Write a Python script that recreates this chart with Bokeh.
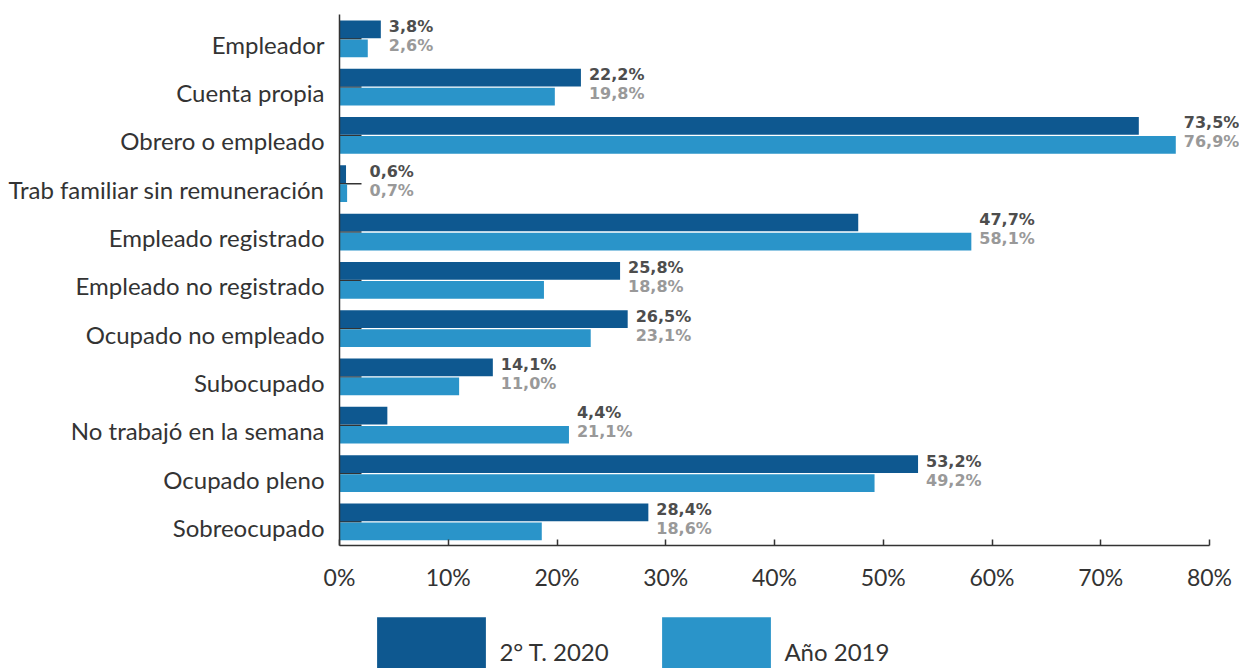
import numpy as np
from bokeh.plotting import figure
from bokeh.layouts import column
from bokeh.core.properties import value
from bokeh.models import (ColumnDataSource, LabelSet, Range1d, FixedTicker,
                          CustomJSTickFormatter, Legend, LegendItem)
from bokeh.embed import file_html
from bokeh.resources import INLINE

# ---------------- data ----------------
categories = ["Empleador", "Cuenta propia", "Obrero o empleado",
              "Trab familiar sin remuneración", "Empleado registrado",
              "Empleado no registrado", "Ocupado no empleado", "Subocupado",
              "No trabajó en la semana", "Ocupado pleno", "Sobreocupado"]
t2_2020 = [3.8, 22.2, 73.5, 0.6, 47.7, 25.8, 26.5, 14.1, 4.4, 53.2, 28.4]
anio_2019 = [2.6, 19.8, 76.9, 0.7, 58.1, 18.8, 23.1, 11.0, 21.1, 49.2, 18.6]
series_names = ["2° T. 2020", "Año 2019"]
x_ticks = [0, 10, 20, 30, 40, 50, 60, 70, 80]
x_tick_labels = ["0%", "10%", "20%", "30%", "40%", "50%", "60%", "70%", "80%"]

# ---------------- style ----------------
DARK = "#0e5890"
LIGHT = "#2a94c9"
AX = "#333333"
FONT = "Lato"
LBL_FONT = "DejaVu Sans"

W = 1239
FRAME_L = 339
AXIS_MAX = 80
PX_PER_UNIT = 870 / AXIS_MAX
X_END = (W - FRAME_L) / PX_PER_UNIT

n = len(categories)
k = np.arange(n)[::-1].astype(float)      # category label positions
LBL_SHIFT = 0.083
OFF = 0.197
BAR_H = 0.367
y_light = k - LBL_SHIFT
y_dark = y_light + 2 * OFF
y_tick = y_light + OFF

TICK_LEN = 22
floor = TICK_LEN / PX_PER_UNIT
lab_x = [max(a, b, floor) for a, b in zip(t2_2020, anio_2019)]

def fmt(v):
    return f"{v:.1f}".replace(".", ",") + "%"

src = ColumnDataSource(dict(
    yd=y_dark, yl=y_light, yt=y_tick, v1=t2_2020, v2=anio_2019,
    lx=lab_x, t1=[fmt(v) for v in t2_2020], t2=[fmt(v) for v in anio_2019],
    zero=[0] * n))

p = figure(width=W, height=600, output_backend="svg", toolbar_location=None,
           x_range=Range1d(0, X_END),
           y_range=Range1d(-0.293 - LBL_SHIFT, 10.7 - LBL_SHIFT),
           min_border_left=FRAME_L, min_border_right=0, min_border_top=14,
           min_border_bottom=55)
p.outline_line_color = None
p.xgrid.visible = False
p.ygrid.visible = False

# y tick marks (inside, at category centre)
p.ray(x="zero", y="yt", length=TICK_LEN, length_units="screen", angle=0,
      line_color=AX, line_width=1.5, source=src)

r1 = p.hbar(y="yd", left=0, right="v1", height=BAR_H, fill_color=DARK,
            line_color=None, source=src)
r2 = p.hbar(y="yl", left=0, right="v2", height=BAR_H, fill_color=LIGHT,
            line_color=None, source=src)

l1 = LabelSet(x="lx", y="yd", text="t1", source=src, x_offset=8, y_offset=3,
              text_font=value(LBL_FONT), text_font_style="bold",
              text_font_size="16px", text_color="#4d4d4d", text_baseline="middle")
l2 = LabelSet(x="lx", y="yl", text="t2", source=src, x_offset=8, y_offset=3,
              text_font=value(LBL_FONT), text_font_style="bold",
              text_font_size="16px", text_color="#999999", text_baseline="middle")
p.add_layout(l1)
p.add_layout(l2)

# x axis
xa = p.xaxis[0]
xa.ticker = FixedTicker(ticks=x_ticks)
xa.bounds = (0, AXIS_MAX)
xa.formatter = CustomJSTickFormatter(args=dict(labels=x_tick_labels),
                                     code="return labels[index];")
xa.major_tick_in = 6
xa.major_tick_out = 0
xa.minor_tick_line_color = None
xa.axis_line_color = AX
xa.axis_line_width = 1.5
xa.major_tick_line_color = AX
xa.major_tick_line_width = 1.5
xa.major_label_text_font = FONT
xa.major_label_text_font_size = "23px"
xa.major_label_text_color = AX
xa.major_label_standoff = 17

# y axis
ya = p.yaxis[0]
ya.ticker = FixedTicker(ticks=list(range(n)))
ya.formatter = CustomJSTickFormatter(args=dict(names=categories[::-1]),
                                     code="return names[index];")
ya.major_tick_in = 0
ya.major_tick_out = 0
ya.minor_tick_line_color = None
ya.axis_line_color = AX
ya.axis_line_width = 1.5
ya.major_label_text_font = FONT
ya.major_label_text_font_size = "24px"
ya.major_label_text_color = AX
ya.major_label_standoff = 15

# ---------------- legend strip ----------------
p2 = figure(width=W, height=68, output_backend="svg", toolbar_location=None,
            x_axis_location=None, y_axis_location=None,
            x_range=Range1d(0, 1), y_range=Range1d(0, 1),
            min_border_left=FRAME_L, min_border_right=0,
            min_border_top=0, min_border_bottom=0)
p2.outline_line_color = None
p2.xgrid.visible = False
p2.ygrid.visible = False
d1 = p2.hbar(y="yd", left=0, right="v1", height=BAR_H, fill_color=DARK,
             line_color=None, source=src, visible=False)
d2 = p2.hbar(y="yl", left=0, right="v2", height=BAR_H, fill_color=LIGHT,
             line_color=None, source=src, visible=False)

legend = Legend(items=[LegendItem(label=series_names[0], renderers=[d1]),
                       LegendItem(label=series_names[1], renderers=[d2])],
                location=(363.4 - FRAME_L, -27.75), orientation="horizontal",
                glyph_width=136, glyph_height=88, label_standoff=0,
                label_width=149, spacing=0, padding=0, margin=0,
                border_line_color=None, background_fill_alpha=0,
                inactive_fill_alpha=0,
                label_text_font=FONT, label_text_font_size="24px",
                label_text_color=AX)
p2.add_layout(legend)

layout = column(p, p2, spacing=0)
open("out.html", "w").write(file_html(layout, INLINE))
